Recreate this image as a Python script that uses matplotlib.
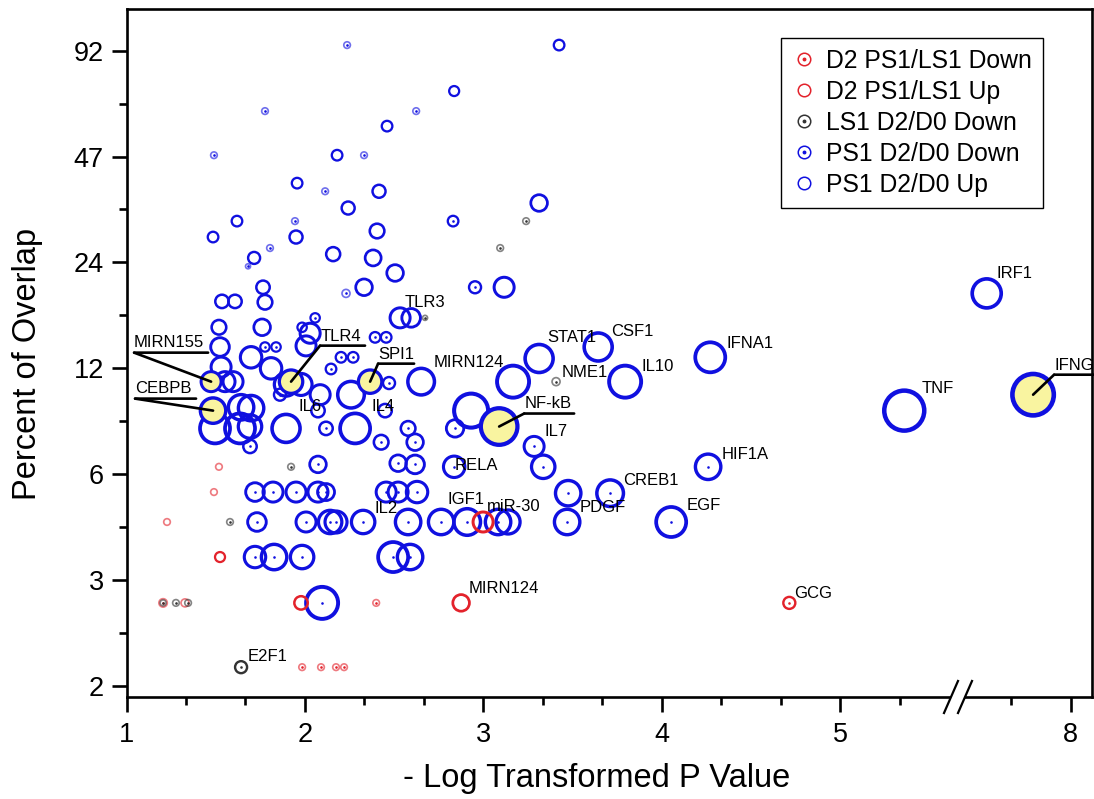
import numpy as np
import matplotlib
matplotlib.use("Agg")
import matplotlib.pyplot as plt
import matplotlib.transforms as mtransforms
from matplotlib.colors import to_rgba
from matplotlib.lines import Line2D

plt.rcParams['font.family'] = ['Liberation Sans', 'DejaVu Sans']

# ---------------- data ----------------
# PS1 D2/D0 Up (blue, open circles)
ps1_up_x = [2.836, 3.424, 2.460, 2.180, 1.956, 2.415, 2.242, 1.619, 1.485, 1.950,
            2.404, 3.312, 1.715, 2.158, 2.382, 2.505, 2.331, 1.765, 1.535, 1.608,
            1.776, 1.518, 1.760, 1.984, 2.029, 2.006, 2.533, 2.595, 1.524, 1.698,
            1.530, 1.810, 1.552, 1.597, 1.894, 1.978, 2.085, 2.258, 2.651, 1.642,
            1.698, 1.496, 1.636, 1.692, 1.894, 2.281, 2.073, 2.449, 3.116, 3.312,
            3.643, 4.271, 3.166, 3.794, 2.931, 3.138, 7.53, 5.358]
ps1_up_y = [71.2, 95.3, 57.0, 47.4, 39.7, 37.7, 33.9, 31.2, 28.2, 28.2,
            29.3, 35.0, 24.7, 25.3, 24.7, 22.4, 20.4, 20.4, 18.6, 18.6,
            18.5, 15.7, 15.7, 15.7, 15.1, 13.9, 16.7, 16.7, 13.8, 12.9,
            12.1, 12.0, 11.0, 11.0, 10.8, 10.8, 10.1, 10.1, 11.0, 9.3,
            9.25, 8.1, 8.1, 8.2, 8.1, 8.1, 9.1, 9.1, 20.4, 12.8,
            13.8, 12.9, 11.0, 11.0, 9.1, 4.39, 19.6, 9.1]
ps1_up_size = [5, 5.3, 5.3, 5.3, 5.3, 6.5, 6.5, 5.3, 5.3, 6.5,
               7.3, 8.3, 6, 7, 8, 8.3, 8.3, 6.7, 6.7, 6.7,
               7.3, 7.3, 8.3, 4.7, 10, 10, 10, 9.3, 9.3, 10.7,
               10, 10.7, 10, 10, 11.7, 11, 10, 13.3, 13.3, 12.7,
               12.7, 15, 15, 11.7, 14, 15, 6.7, 6.7, 10, 14,
               14, 15, 16, 16, 17, 12, 14.5, 20]

# PS1 D2/D0 Down (blue, circles with centre dot)
ps1_down_x = [2.236, 1.776, 2.623, 1.490, 2.331, 2.113, 1.944, 1.804, 1.681, 2.830,
              2.230, 2.057, 2.393, 2.455, 1.776, 1.838, 2.202, 2.270, 2.146, 1.860,
              2.471, 2.118, 2.578, 2.427, 2.617, 1.692, 2.073, 2.522, 2.617, 2.953,
              2.841, 3.284, 3.335, 4.259, 2.836, 3.475, 3.710, 1.720, 1.821, 1.950,
              2.073, 2.118, 2.455, 2.522, 2.628, 1.731, 2.006, 2.141, 2.174, 2.326,
              2.578, 2.763, 2.909, 3.082, 3.469, 4.052, 1.720, 1.827, 1.984, 2.494,
              2.589, 2.096]
ps1_down_y = [95.3, 62.7, 62.7, 47.4, 47.4, 37.7, 31.2, 26.3, 23.4, 31.2,
              19.6, 16.7, 14.7, 14.7, 13.8, 13.8, 12.9, 12.9, 11.95, 10.1,
              10.9, 8.1, 8.1, 7.4, 7.4, 7.2, 6.4, 6.45, 6.4, 20.4,
              8.1, 7.2, 6.3, 6.3, 6.3, 5.3, 5.3, 5.34, 5.34, 5.34,
              5.34, 5.34, 5.34, 5.34, 5.34, 4.39, 4.39, 4.39, 4.39, 4.39,
              4.39, 4.39, 4.39, 4.39, 4.39, 4.39, 3.49, 3.49, 3.49, 3.49,
              3.49, 2.75]
ps1_down_size = [3.3, 3.3, 3.3, 3.3, 3.3, 3.3, 3.3, 3.3, 2.5, 5.3,
                 4, 4.7, 5.3, 5.3, 4.7, 4.7, 5.3, 5.3, 5.3, 6,
                 6, 6.7, 7.3, 7.3, 8.3, 6.7, 8.3, 8.3, 9.3, 6,
                 8.7, 10, 11.7, 12.7, 10.7, 12.7, 13.3, 9.3, 10, 10,
                 10, 8.5, 10, 10, 10.7, 9.3, 10, 11.7, 11, 11.7,
                 12.7, 12.7, 13.3, 12.7, 12.7, 15, 10.7, 12.7, 11.7, 15,
                 12.7, 16]

# LS1 D2/D0 Down (black, circles with centre dot)
ls1_down_x = [3.239, 3.094, 2.673, 3.407, 1.922, 1.580, 1.277, 1.345, 1.205, 1.642]
ls1_down_y = [31.2, 26.3, 16.7, 11.0, 6.3, 4.39, 2.75, 2.75, 2.75, 2.15]
ls1_down_size = [3.3, 3.3, 2.5, 4, 3.3, 3.3, 3.3, 3.3, 3, 6]

# D2 PS1/LS1 Down (red, circles with centre dot)
d2_down_x = [1.205, 2.399, 4.714, 1.984, 2.090, 2.174, 2.219]
d2_down_y = [2.75, 2.75, 2.75, 2.15, 2.15, 2.15, 2.15]
d2_down_size = [4.2, 3.3, 6, 3.3, 3.3, 3.3, 3.3]

# D2 PS1/LS1 Up (red, open circles)
d2_up_x = [1.518, 1.490, 1.227, 1.524, 1.328, 1.978, 2.875, 2.998]
d2_up_y = [6.3, 5.34, 4.39, 3.49, 2.75, 2.75, 2.75, 4.39]
d2_up_size = [3.3, 3.3, 3.3, 5, 4, 6.7, 8.3, 10]

# highlighted regulators (yellow filled, with leader lines)
hl_names = ['MIRN155', 'CEBPB', 'TLR4', 'SPI1', 'NF-kB', 'IFNG']
hl_x = [1.474, 1.485, 1.922, 2.365, 3.088, 7.79]
hl_y = [11.0, 9.1, 11.0, 11.0, 8.2, 10.1]
hl_size = [10, 12.7, 11.7, 11.7, 18.3, 20.7]

# plain labels (attached to bubbles)
lab_names = ['TLR3', 'STAT1', 'CSF1', 'IFNA1', 'MIRN124', 'NME1', 'IL10', 'IL7',
             'HIF1A', 'RELA', 'CREB1', 'IGF1', 'miR-30', 'PDGF', 'EGF', 'MIRN124',
             'GCG', 'IL2', 'IL6', 'IL4', 'E2F1', 'IRF1', 'TNF']
lab_x = [2.595, 3.312, 3.643, 4.271, 2.651, 3.407, 3.794, 3.284,
         4.259, 2.836, 3.710, 2.763, 2.909, 3.469, 4.052, 2.875,
         4.714, 2.326, 1.894, 2.258, 1.642, 7.53, 5.358]
lab_y = [16.7, 12.8, 13.8, 12.9, 11.0, 11.0, 11.0, 7.2,
         6.3, 6.3, 5.3, 4.39, 4.39, 4.39, 4.39, 2.75,
         2.75, 4.39, 10.8, 10.1, 2.15, 19.6, 9.1]

legend_labels = ['D2 PS1/LS1 Down', 'D2 PS1/LS1 Up', 'LS1 D2/D0 Down',
                 'PS1 D2/D0 Down', 'PS1 D2/D0 Up']

y_tick_values = [2, 3, 6, 12, 24, 47, 92]
x_tick_values = [1, 2, 3, 4, 5, 8]
x_break = (5.66, 7.39)

# ---------------- styles ----------------
BLUE = '#1010e0'
RED = '#e3222b'
BLACK = '#333333'
YELLOW = '#f9f4a0'
PX = 0.72  # points per pixel (dpi 100)

# label offsets in pixels (dx right, dy down)
lab_off = [(-7, -15), (8, -21), (13, -15), (16, -14), (12, -19), (6, -9), (16, -15), (10, -15),
           (14, -12), (0, -1), (13, -13), (6, -22), (20, -15), (12, -14), (15, -16), (8, -14),
           (5, -9), (11, -13), (12, 22), (20, 12), (7, -11), (10, -20), (17, -22)]
# leader labels: text offset, underline y, underline x0, x1
hl_style = [((-77, -39), -29, -77, -3),
            ((-78, -22), -12, -78, -17),
            ((30, -45), -36, 29, 74),
            ((8, -27), -18, 8, 44),
            ((25, -23), -13, 25, 75),
            ((21, -29), -20, 21, 61)]

fig = plt.figure(figsize=(10.94, 7.99), dpi=100)
ax = fig.add_axes([126.5 / 1094, 1 - 697 / 799, (1092 - 126.5) / 1094, (697 - 9) / 799])

# broken x scale
lo, hi = x_break
xa = np.array([-100.0, lo, hi, 100.0])
xb = np.array([-100.0, lo, lo + 0.02, 100.0 - (hi - lo) + 0.02])


def xf(v):
    return np.interp(v, xa, xb)


def xi(v):
    return np.interp(v, xb, xa)


ax.set_xscale('function', functions=(xf, xi))

# custom percent scale (evenly spaced labelled ticks, log between)
yk = np.array([-1.7095, 0, 1, 2, 3, 4, 5, 6, 9.553])
yv = np.log([1.0, 2, 3, 6, 12, 24, 47, 92, 1000])


def yf(v):
    return np.interp(np.log(np.clip(np.asarray(v, float), 1e-6, None)), yv, yk)


def yi(k):
    return np.exp(np.interp(k, yk, yv))


ax.set_yscale('function', functions=(yf, yi))
ax.set_xlim(1.0, 8.12)
ax.set_ylim(1.918, 119.8)


def bubbles(x, y, r, color, dot, face='none', z=2):
    r = np.asarray(r, float)
    s = (2 * r * PX) ** 2
    lw = np.where(r < 4.5, 1.7, 1.5 + 0.15 * r) * PX
    ec = [to_rgba(color, 0.6 if ri < 4.5 else 1.0) for ri in r]
    ax.scatter(x, y, s=s, facecolors=face, edgecolors=ec, linewidths=lw, zorder=z)
    if dot:
        ax.scatter(x, y, s=(2.6 * PX) ** 2, c=color, linewidths=0, zorder=z + 0.1)


bubbles(ps1_up_x, ps1_up_y, ps1_up_size, BLUE, False)
bubbles(ps1_down_x, ps1_down_y, ps1_down_size, BLUE, True)
bubbles(d2_up_x, d2_up_y, d2_up_size, RED, False)
bubbles(d2_down_x, d2_down_y, d2_down_size, RED, True)
bubbles(ls1_down_x, ls1_down_y, ls1_down_size, BLACK, True)
bubbles(hl_x, hl_y, hl_size, BLUE, False, face=YELLOW, z=4)

# plain labels
for name, x, y, (dx, dy) in zip(lab_names, lab_x, lab_y, lab_off):
    ax.annotate(name, xy=(x, y), xytext=(dx, -dy), textcoords='offset pixels',
                ha='left', va='center', fontsize=12, zorder=6, annotation_clip=False)

LINE = dict(arrowstyle='-', color='black', lw=1.9, shrinkA=0, shrinkB=0)
# leader labels
for name, x, y, ((tx, ty), uy, ux0, ux1) in zip(hl_names, hl_x, hl_y, hl_style):
    ax.annotate(name, xy=(x, y), xytext=(tx, -ty), textcoords='offset pixels',
                ha='left', va='center', fontsize=12, zorder=6, annotation_clip=False)
    start_tr = mtransforms.offset_copy(ax.transData, fig=fig, x=ux0, y=-uy, units='dots')
    end_tr = mtransforms.offset_copy(ax.transData, fig=fig, x=ux1, y=-uy, units='dots')
    # underline
    ax.annotate('', xy=(x, y), xycoords=end_tr, xytext=(x, y), textcoords=start_tr,
                arrowprops=LINE, zorder=6, annotation_clip=False)
    # connector to bubble centre
    ax.annotate('', xy=(x, y), xytext=(x, y), textcoords=start_tr,
                arrowprops=LINE, zorder=6, annotation_clip=False)

# ticks
ax.set_xticks(x_tick_values)
ax.set_xticklabels([str(v) for v in x_tick_values])
minor_x = [i + j / 3 for i in range(1, 6) for j in (1, 2) if i + j / 3 < lo] + [hi + 0.277]
ax.set_xticks(minor_x, minor=True)
ax.set_yticks(y_tick_values)
ax.set_yticklabels([str(v) for v in y_tick_values])
ax.set_yticks(yi(np.arange(0.5, 6.0, 1.0)), minor=True)
ax.tick_params(which='major', direction='out', length=10.8, width=1.9, labelsize=19.5, color='black')
ax.tick_params(axis='y', which='major', pad=5.5)
ax.tick_params(axis='x', which='major', pad=7)
ax.tick_params(which='minor', direction='out', length=5.8, width=1.9)
for sp in ax.spines.values():
    sp.set_linewidth(1.9)

# axis break marks
bx1, bx2 = (951 - 126.5) / 965.5, (965 - 126.5) / 965.5
hdx, hdy = 7 / 965.5, 16 / 688
ax.plot([bx1, bx2], [0, 0], transform=ax.transAxes, color='white', lw=4,
        clip_on=False, zorder=10, solid_capstyle='butt')
for bxc in (bx1, bx2):
    ax.plot([bxc - hdx, bxc + hdx], [-hdy, hdy], transform=ax.transAxes, color='black',
            lw=1.6, clip_on=False, zorder=11)

# legend
colors = [RED, RED, BLACK, BLUE, BLUE]
dots = [True, False, True, True, False]
handles = []
for c, d in zip(colors, dots):
    ring = Line2D([], [], ls='none', marker='o', ms=9, mfc='none', mec=c, mew=1.1)
    if d:
        handles.append((ring, Line2D([], [], ls='none', marker='o', ms=1.8, mfc=c, mec=c)))
    else:
        handles.append(ring)
leg = ax.legend(handles, legend_labels, loc='upper right', bbox_to_anchor=(0.949, 0.958),
                fontsize=17.8, frameon=True, fancybox=False, edgecolor='black', framealpha=1,
                borderpad=0.45, labelspacing=0.28, handletextpad=0.45, handlelength=0.9,
                borderaxespad=0)
leg.get_frame().set_linewidth(1.0)
leg.set_zorder(12)

fig.text(597 / 1094, 1 - 778 / 799, '- Log Transformed P Value', ha='center', va='center',
         fontsize=23.5)
fig.text(28 / 1094, 1 - 364 / 799, 'Percent of Overlap', ha='center', va='center',
         rotation=90, fontsize=23.5)

fig.savefig('out.png', dpi=100)
